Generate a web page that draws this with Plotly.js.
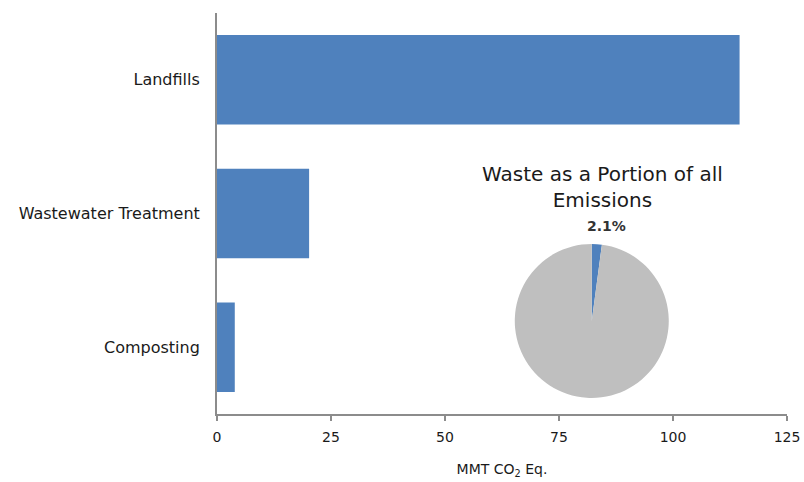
<!DOCTYPE html>
<html><head><meta charset="utf-8">
<script src="https://cdn.plot.ly/plotly-3.0.1.min.js"></script>
<style>html,body{margin:0;padding:0;background:#fff}#c{width:804px;height:482px}</style>
</head><body><div id="c"></div>
<script>
const categories = ["Composting", "Wastewater Treatment", "Landfills"];
const emissions = [3.9, 20.2, 114.6];
const xTicks = [0, 25, 50, 75, 100, 125];
const pieLabels = ["Waste", "All other emissions"];
const pieValues = [2.1, 97.9];
const pieTitle = "Waste as a Portion of all<br>Emissions";

const FONT = "DejaVu Sans, Verdana, sans-serif";
const data = [
  {type: "bar", orientation: "h", y: categories, x: emissions,
   marker: {color: "#4F81BD"}, hoverinfo: "x+y"},
  {type: "pie", values: pieValues, labels: pieLabels, sort: false,
   direction: "clockwise", rotation: 0,
   marker: {colors: ["#4F81BD", "#BFBFBF"], line: {width: 0}},
   textinfo: "none", showlegend: false,
   domain: {x: [0.52, 0.795], y: [0.04, 0.424]}}
];
const layout = {
  width: 804, height: 482,
  margin: {l: 217, r: 17, t: 13, b: 68},
  paper_bgcolor: "#fff", plot_bgcolor: "#fff",
  font: {family: FONT, color: "#1a1a1a", size: 13},
  showlegend: false,
  bargap: 0.33,
  xaxis: {range: [0, 125], tickvals: xTicks, ticks: "outside", ticklen: 5, tickwidth: 2,
          tickcolor: "#8c8c8c", showline: true, linecolor: "#8c8c8c", linewidth: 2,
          showgrid: false, zeroline: false, tickfont: {size: 14}, ticklabelstandoff: 4,
          title: {text: "MMT CO<sub>2</sub> Eq.", font: {size: 14}, standoff: 20}},
  yaxis: {range: [-0.5, 2.5], showline: true, linecolor: "#8c8c8c", linewidth: 2,
          showgrid: false, zeroline: false, ticks: "", ticklabelstandoff: 12,
          tickfont: {size: 16}},
  annotations: [
    {text: pieTitle, xref: "paper", yref: "paper", x: 0.676, y: 0.566,
     xanchor: "center", yanchor: "middle", showarrow: false,
     font: {size: 20, family: FONT, color: "#1a1a1a"}},
    {text: "<b>" + pieValues[0].toFixed(1) + "%</b>", xref: "paper", yref: "paper",
     x: 0.684, y: 0.468, xanchor: "center", yanchor: "middle", showarrow: false,
     font: {size: 14, family: FONT, color: "#333"}}
  ]
};
Plotly.newPlot("c", data, layout, {displayModeBar: false, staticPlot: true});
</script></body></html>
